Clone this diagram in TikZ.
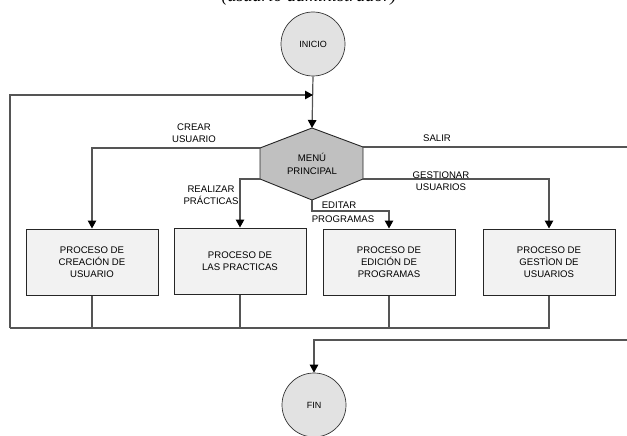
\documentclass[tikz,border=0pt]{standalone}
\usepackage{fontspec}
\setmainfont{Liberation Sans}
\newfontfamily\titlefont{Liberation Serif}
\usetikzlibrary{arrows.meta}
\definecolor{linegray}{HTML}{555555}
\definecolor{termfill}{HTML}{E2E2E2}
\definecolor{hexfill}{HTML}{C0C0C0}
\definecolor{boxfill}{HTML}{F2F2F2}
\tikzset{
  flow/.style={draw=linegray, line width=1.2pt},
  arr/.style={flow, -{Triangle[length=8pt,width=8.5pt,color=black]}},
  terminal/.style={circle, draw=black!80, fill=termfill, line width=0.7pt,
    minimum size=64pt, inner sep=0pt, font=\fontsize{9}{10}\selectfont},
  procbox/.style={rectangle, draw=black!85, fill=boxfill, line width=1pt,
    minimum width=132pt, minimum height=66pt, inner sep=0pt, align=center,
    font=\fontsize{9.6}{12}\selectfont},
  lbl/.style={font=\fontsize{9.6}{12.5}\selectfont, inner sep=0pt, align=center},
}
\begin{document}
\begin{tikzpicture}[x=1pt, y=-1pt]
  \useasboundingbox (0,0) rectangle (627,436);
  \clip (0,0) rectangle (627,436);

  % heading, partly above the top edge
  \node[anchor=base, inner sep=0pt, font=\titlefont\itshape\fontsize{18}{20}\selectfont]
    (title) at (309,2) {(usuario administrador)};

  % start / end terminals
  \node[terminal] (inicio) at (313,44) {INICIO};
  \node[terminal] (fin) at (314,405) {FIN};

  % main menu hexagon
  \coordinate (ht) at (312,128);
  \coordinate (hul) at (260,148);
  \coordinate (hll) at (260,179);
  \coordinate (hb) at (312,200);
  \coordinate (hlr) at (363,179);
  \coordinate (hur) at (363,147);
  \draw[fill=hexfill, draw=black!85, line width=0.9pt]
    (ht) -- (hul) -- (hll) -- (hb) -- (hlr) -- (hur) -- cycle;
  \node[lbl] (menu) at (312,164) {MENÚ\\PRINCIPAL};

  % process boxes
  \node[procbox] (crear) at (92,262) {PROCESO DE\\CREACIÓN DE\\USUARIO};
  \node[procbox] (pract) at (240,261) {PROCESO DE\\LAS PRACTICAS};
  \node[procbox] (edit) at (389,262) {PROCESO DE\\EDICIÓN DE\\PROGRAMAS};
  \node[procbox] (gest) at (549,262) {PROCESO DE\\GESTÌON DE\\USUARIOS};

  % junction points
  \coordinate (join) at (313,95);
  \coordinate (loopL) at (10,328);
  \coordinate (exitR) at (640,340);

  % start into the menu
  \draw[arr] (inicio.south) -- (ht);

  % menu branches
  \draw[arr] (hul) -| (crear.north);
  \draw[arr] (hll) -| (pract.north);
  \draw[arr] (hb) -- (312,211) -| (edit.north);
  \draw[arr] (hlr) -| (gest.north);

  % return loop back to the menu
  \draw[flow] (crear.south) |- (loopL);
  \draw[flow] (pract.south) -- (pract.south |- loopL);
  \draw[flow] (edit.south) -- (edit.south |- loopL);
  \draw[flow] (gest.south) |- (loopL);
  \draw[arr] (loopL) |- (join);

  % exit
  \draw[flow] (hur) -- (hur -| exitR) -- (exitR);
  \draw[arr] (exitR) -| (fin.north);

  % branch labels
  \node[lbl] at (194,133) {CREAR\\USUARIO};
  \node[lbl] at (211,195) {REALIZAR\\PRÁCTICAS};
  \node[lbl] at (437,138) {SALIR};
  \node[lbl] at (441,181) {GESTIONAR\\USUARIOS};
  \node[lbl] at (339,205) {EDITAR};
  \node[lbl, fill=white, inner sep=0.5pt] at (343,219) {PROGRAMAS};
\end{tikzpicture}
\end{document}
